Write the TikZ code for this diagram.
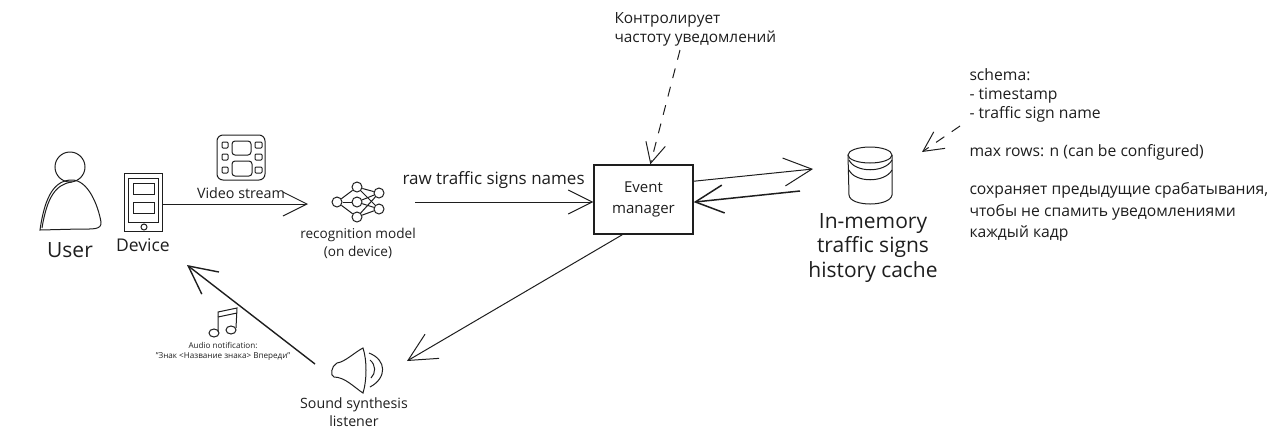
\documentclass[tikz,border=0pt]{standalone}
\usepackage{fontspec}
\setmainfont{Open Sans}
\usetikzlibrary{arrows.meta,positioning}
\definecolor{ink}{HTML}{1E1E1E}
\tikzset{
  every path/.style={color=ink, line width=1pt},
  barb/.style={-{Straight Barb[length=#1, width=#1]}},
  barb/.default=24pt,
  label14/.style={font=\fontsize{14}{19}\selectfont, align=center, inner sep=0pt},
  note/.style={font=\fontsize{15.7}{19}\selectfont, align=left, inner sep=0pt, anchor=north west},
  neuron/.style={draw, circle, minimum size=10pt, inner sep=0pt}
}
\begin{document}
\begin{tikzpicture}[x=1pt, y=-1pt]
\useasboundingbox (0, 0) rectangle (1280, 440);

\draw (70, 167) circle[radius=15pt];
\draw (40, 230) .. controls (45, 195) and (55, 180) .. (72, 180) .. controls (88, 180) and (98, 205) .. (101, 222) .. controls (102, 230) and (92, 229) .. (80, 229) -- cycle;
\draw (42, 228) .. controls (47, 197) and (56, 184) .. (72, 182);
\node[font=\fontsize{21}{21}\selectfont, inner sep=0pt] (user) at (70, 250) {User};

\node[draw, rectangle, minimum width=38pt, minimum height=58pt, inner sep=0pt] (device) at (143, 202) {};
\node[draw, rectangle, minimum width=30pt, minimum height=44pt, inner sep=0pt] (frame) at (143, 200) {};
\node[draw, rectangle, minimum width=21pt, minimum height=11pt, inner sep=0pt] (screenA) at (143.5, 188.5) {};
\node[draw, rectangle, minimum width=21pt, minimum height=11pt, inner sep=0pt] (screenB) at (143.5, 207.5) {};
\draw (144, 227) circle[radius=3pt];
\node[label14, font=\fontsize{17.5}{17.5}\selectfont] (devicetext) at (143, 245) {Device};

\draw[rounded corners=6pt] (217, 135) rectangle (265, 180);
\draw[rounded corners=3pt] (232, 141) rectangle (251, 155);
\draw[rounded corners=3pt] (232, 161) rectangle (252, 176);
\foreach \y in {142, 154, 167} {
  \draw[rounded corners=1pt] (222, \y) rectangle +(6, 6);
  \draw[rounded corners=1pt] (255, \y) rectangle +(7, 6);
}
\node[label14, font=\fontsize{14.3}{14.3}\selectfont] (videotext) at (241, 193) {Video stream};
\coordinate (modelin) at (308, 204);

\node[neuron] (n1) at (337, 202) {};
\node[neuron] (n2) at (357, 187) {};
\node[neuron] (n3) at (357, 202) {};
\node[neuron] (n4) at (357, 217) {};
\node[neuron] (n5) at (379, 193) {};
\node[neuron] (n6) at (379, 209) {};
\foreach \a in {2, 3, 4} {
  \draw (n1) -- (n\a);
  \draw (n\a) -- (n5);
  \draw (n\a) -- (n6);
}
\node[label14, font=\fontsize{13.6}{18}\selectfont] (modeltext) at (358, 243) {recognition model\\(on device)};
\coordinate (modelout) at (415, 202);
\node[label14, font=\fontsize{17}{17}\selectfont, anchor=west] (rawtext) at (402, 180) {raw traffic signs names};

\node[draw, rectangle, minimum width=99pt, minimum height=69pt, inner sep=0pt, line width=1.4pt, font=\fontsize{15}{21}\selectfont, align=center] (manager) at (643.5, 199.5) {Event\\manager};

\node[note, font=\fontsize{15.4}{19}\selectfont] (controltext) at (614, 12.5) {Контролирует\\частоту уведомлений};
\coordinate (controlout) at (680, 50);

\draw (892, 155) arc[start angle=0, end angle=360, x radius=22pt, y radius=8pt];
\draw (848, 155) -- (849, 195) .. controls (850, 207) and (890, 207) .. (892, 195) -- (892, 155);
\draw (849, 160) .. controls (855, 173) and (885, 173) .. (892, 160);
\draw (849, 170) .. controls (855, 183) and (885, 183) .. (892, 170);
\node[label14, font=\fontsize{21}{24.5}\selectfont] (cachetext) at (873, 248) {In-memory\\traffic signs\\history cache};
\coordinate (cachein) at (813, 169);
\coordinate (cacheout) at (800, 191);

\node[note] (schematext) at (969, 68.5) {schema:\\- timestamp\\- traffic sign name\\[19pt]max rows: n (can be configured)\\[19pt]сохраняет предыдущие срабатывания,\\[2.5pt]чтобы не спамить уведомлениями\\[2.5pt]каждый кадр};
\coordinate (schemaout) at (960, 126);
\coordinate (cachenote) at (922, 152);

\draw (363, 348) .. controls (355, 352) and (345, 362) .. (337, 363) .. controls (331, 366) and (330, 376) .. (334, 377) .. controls (345, 377) and (355, 388) .. (363, 393) .. controls (367, 380) and (367, 360) .. (363, 348) -- cycle;
\draw (370, 360) .. controls (376, 365) and (376, 373) .. (371, 378);
\draw (369, 353) .. controls (387, 360) and (387, 378) .. (370, 387);
\node[label14, font=\fontsize{14.2}{18}\selectfont] (speakertext) at (354, 412) {Sound synthesis\\listener};
\coordinate (speakerin) at (407, 361);
\coordinate (speakerout) at (315, 364);
\coordinate (devicein) at (187, 265);

\draw (218, 332) -- (218, 312) -- (237, 308) -- (236, 328);
\draw (218, 317) -- (237, 313);
\draw (214, 333) ellipse[x radius=5pt, y radius=4pt];
\draw (231, 330) ellipse[x radius=5pt, y radius=4pt];
\node[label14, font=\fontsize{8.1}{10}\selectfont] (audiotext) at (223, 351) {Audio notification:\\"Знак <Название знака> Впереди"};

\draw[barb] (device.east |- modelin) -- (modelin);
\draw[barb] (modelout) -- (manager.west |- modelout);
\draw[barb=28pt] (manager.20) -- (cachein);
\draw[barb=28pt, line width=1.5pt] (cacheout) -- (manager.-3);
\draw[barb=28pt] (manager.239) -- (speakerin);
\draw[barb=28pt, line width=1.4pt] (speakerout) -- (devicein);
\draw[barb=20pt, dashed, dash pattern=on 10pt off 9pt] (controlout) -- (manager.79);
\draw[barb=20pt, dashed, dash pattern=on 10pt off 9pt] (schemaout) -- (cachenote);
\end{tikzpicture}
\end{document}
